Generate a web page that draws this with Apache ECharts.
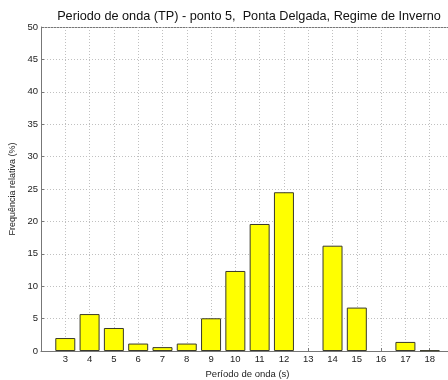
<!DOCTYPE html>
<html>
<head>
<meta charset="utf-8">
<script src="https://cdn.jsdelivr.net/npm/echarts@6/dist/echarts.min.js"></script>
<style>
  html, body { margin: 0; padding: 0; background: #fff; }
  #chart { width: 448px; height: 380px; }
</style>
</head>
<body>
<div id="chart"></div>
<script>
// Wave period classes (s) and relative frequency (%)
const periods = [3, 4, 5, 6, 7, 8, 9, 10, 11, 12, 13, 14, 15, 16, 17, 18];
const frequency = [2.0, 5.7, 3.55, 1.15, 0.6, 1.15, 5.05, 12.35, 19.6, 24.5, 0, 16.25, 6.7, 0, 1.4, 0.1];
const yTicks = [0, 5, 10, 15, 20, 25, 30, 35, 40, 45, 50];

const titleText = 'Periodo de onda (TP) - ponto 5,  Ponta Delgada, Regime de Inverno';
const xName = 'Período de onda (s)';
const yName = 'Frequência relativa (%)';

const font = 'Liberation Sans, Arial, sans-serif';
const chart = echarts.init(document.getElementById('chart'), null, { renderer: 'canvas' });

const gridLine = { show: true, lineStyle: { color: '#c0c0c0', type: [1, 2], width: 1 } };

chart.setOption({
  animation: false,
  backgroundColor: '#ffffff',
  title: {
    text: titleText,
    left: 244,
    textAlign: 'center',
    top: 5,
    textStyle: { fontFamily: font, fontSize: 12.7, fontWeight: 'normal', color: '#111' }
  },
  grid: {
    left: 41, right: -6, top: 27, bottom: 29,
    containLabel: false,
    outerBoundsMode: 'none'
  },
  xAxis: {
    type: 'value',
    min: 2,
    max: 19,
    interval: 1,
    name: xName,
    nameLocation: 'middle',
    nameGap: 13,
    nameTextStyle: { fontFamily: font, fontSize: 9.5, color: '#222' },
    axisLine: { show: true, lineStyle: { color: '#777', width: 1 } },
    axisTick: { show: true, inside: true, length: 3, lineStyle: { color: '#777' } },
    axisLabel: {
      fontFamily: font, fontSize: 9.5, color: '#222', margin: 3,
      formatter: v => (periods.includes(v) ? String(v) : '')
    },
    splitLine: gridLine
  },
  yAxis: {
    type: 'value',
    min: 0,
    max: 50,
    interval: 5,
    name: yName,
    nameLocation: 'middle',
    nameGap: 17,
    nameTextStyle: { fontFamily: font, fontSize: 9, color: '#222' },
    axisLine: { show: true, lineStyle: { color: '#777', width: 1 } },
    axisTick: { show: true, inside: true, length: 3, lineStyle: { color: '#777' } },
    axisLabel: {
      fontFamily: font, fontSize: 9.5, color: '#222', margin: 3,
      formatter: v => (yTicks.includes(v) ? String(v) : '')
    },
    splitLine: gridLine
  },
  series: [{
    type: 'bar',
    // zero-height classes leave an empty slot (no outline)
    data: periods.map((p, i) => ({
      value: [p, frequency[i]],
      itemStyle: frequency[i] === 0 ? { borderWidth: 0, opacity: 0 } : undefined
    })),
    barWidth: 20,
    itemStyle: { color: '#ffff00', borderColor: '#3a3a2a', borderWidth: 1 },
    emphasis: { disabled: true }
  }],
  graphic: [{
    type: 'line',
    shape: { x1: 41, y1: 27.5, x2: 448, y2: 27.5 },
    style: { stroke: '#777', lineWidth: 1 },
    silent: true
  }]
});
</script>
</body>
</html>
